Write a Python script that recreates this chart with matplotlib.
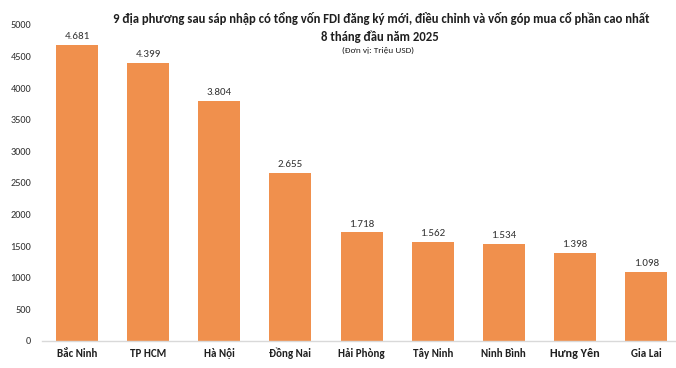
import numpy as np
import matplotlib.pyplot as plt

# ============================================================
# Data
# ============================================================
provinces = ["Bắc Ninh", "TP HCM", "Hà Nội", "Đồng Nai", "Hải Phòng",
             "Tây Ninh", "Ninh Bình", "Hưng Yên", "Gia Lai"]
fdi = [4681, 4399, 3804, 2655, 1718, 1562, 1534, 1398, 1098]
value_labels = ["4.681", "4.399", "3.804", "2.655", "1.718",
                "1.562", "1.534", "1.398", "1.098"]
yticks = [0, 500, 1000, 1500, 2000, 2500, 3000, 3500, 4000, 4500, 5000]

plt.rcParams['font.family'] = ['Carlito', 'Liberation Sans', 'DejaVu Sans']

BAR = "#F0904D"
TXT = "#1f1f1f"

fig = plt.figure(figsize=(6.76, 3.68), dpi=100)
ax = fig.add_axes([41.5 / 676, 27 / 368, 1 - 41.5 / 676, 316 / 368])

x = np.arange(len(provinces))
ax.bar(x, fdi, width=0.59, color=BAR, zorder=2)

for xi, v, lab in zip(x, fdi, value_labels):
    ax.annotate(lab, (xi, v), xytext=(0, 6), textcoords="offset points",
                ha="center", va="center", fontsize=7.9, color="#333333")

ax.set_xlim(-0.5, 8.42)
ax.set_ylim(0, 5000)
ax.set_yticks(yticks)
ax.set_yticklabels([str(t) for t in yticks], fontsize=7.4, color="#333333")
ax.set_xticks(x)
ax.set_xticklabels(provinces, fontsize=7.9, fontweight="bold", color=TXT)
ax.get_xticklabels()[7].set_fontsize(8.8)
ax.tick_params(axis="both", length=0)
ax.tick_params(axis="x", pad=5)
ax.tick_params(axis="y", pad=7.5)

for s in ["top", "right", "left"]:
    ax.spines[s].set_visible(False)
ax.spines["bottom"].set_color("#d9d9d9")
ax.spines["bottom"].set_linewidth(1)

# title block
fig.text(381 / 676, 1 - 18 / 368,
         "9 địa phương sau sáp nhập có tổng vốn FDI đăng ký mới, điều chỉnh và vốn góp mua cổ phần cao nhất",
         ha="center", va="center", fontsize=9.2, fontweight="bold", color=TXT)
fig.text(380 / 676, 1 - 37 / 368, "8 tháng đầu năm 2025",
         ha="center", va="center", fontsize=9.2, fontweight="bold", color=TXT)
fig.text(378 / 676, 1 - 50 / 368, "(Đơn vị: Triệu USD)",
         ha="center", va="center", fontsize=6.7, color=TXT)

fig.savefig("out.png", dpi=100)
